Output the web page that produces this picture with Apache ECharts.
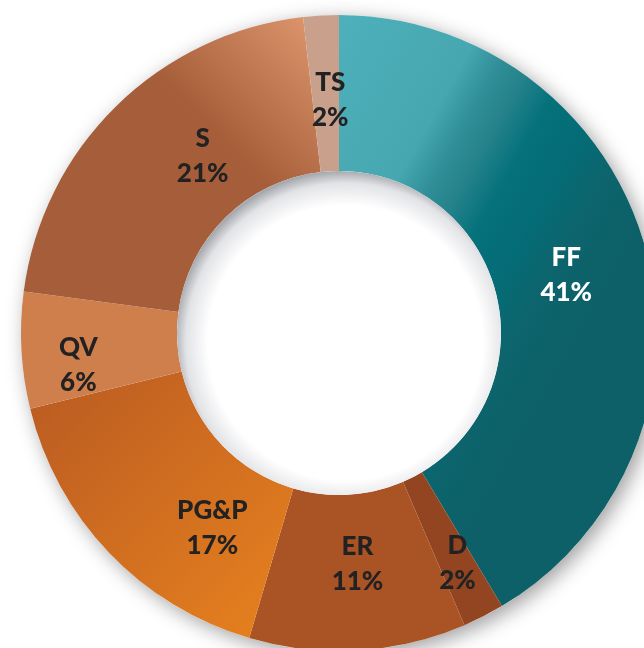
<!DOCTYPE html>
<html>
<head>
<meta charset="utf-8">
<script src="https://cdn.jsdelivr.net/npm/echarts@6/dist/echarts.min.js"></script>
<style>
  html, body { margin: 0; padding: 0; background: #fff; }
  #chart { width: 644px; height: 648px; }
</style>
</head>
<body>
<div id="chart"></div>
<script>
// slices, clockwise from 12 o'clock
const categories = ['FF', 'D', 'ER', 'PG&P', 'QV', 'S', 'TS'];
const shares = [41.4, 2.1, 11.0, 16.6, 5.9, 21.1, 1.8];
const shownPct = [41, 2, 11, 17, 6, 21, 2];

const grad = (x, y, x2, y2, stops) => new echarts.graphic.LinearGradient(
    x, y, x2, y2, stops.map((c, i) => ({ offset: c[0], color: c[1] })));

const sliceColors = [
    grad(0, 0, 1, 0.3, [[0, '#4eb0ba'], [0.36, '#46a7b1'], [0.45, '#2f8e97'], [0.52, '#26838c'],
        [0.62, '#05717b'], [0.74, '#046c76'], [0.86, '#0d646c'], [1, '#0d6068']]),
    '#924520',
    '#aa5425',
    grad(0, 0, 1, 1, [[0, '#b95a22'], [1, '#e8821e']]),
    '#cf7f4b',
    grad(0.95, 0, 0.6, 0.35, [[0, '#dc946c'], [1, '#a65e3a']]),
    '#c8a08c'
];
const labelColors = ['#fff', '#222', '#222', '#222', '#222', '#222', '#222'];
// nudges from the default mid-ring spot
const labelNudge = [[-7, 7], [8, 14], [4, -11], [49, 27], [-18, 19], [34, -4], [5, 10]];

const center = [339, 333];
const chart = echarts.init(document.getElementById('chart'));

chart.setOption({
    animation: false,
    series: [
        {
            // ring drop shadow
            type: 'pie', silent: true, z: 1,
            center: center, radius: [150, 318],
            label: { show: false }, labelLine: { show: false },
            itemStyle: {
                color: '#fff', shadowBlur: 20, shadowColor: 'rgba(0,0,0,0.38)',
                shadowOffsetX: 5, shadowOffsetY: 5
            },
            data: [{ value: 1 }]
        },
        {
            type: 'pie', z: 2,
            center: center, radius: [162, 318],
            startAngle: 90, clockwise: true,
            labelLine: { show: false },
            data: categories.map((name, i) => ({
                name: name,
                value: shares[i],
                itemStyle: { color: sliceColors[i] },
                label: {
                    show: true, position: 'inside',
                    formatter: name + '\n' + shownPct[i] + '%',
                    color: labelColors[i],
                    fontFamily: 'Lato', fontWeight: 900, fontSize: 26,
                    lineHeight: 35,
                    offset: labelNudge[i]
                }
            }))
        },
        {
            // inset shading of the hole
            type: 'pie', silent: true, z: 3,
            center: center, radius: [0, 162],
            label: { show: false }, labelLine: { show: false },
            itemStyle: {
                color: new echarts.graphic.RadialGradient(0.52, 0.53, 0.53, [
                    { offset: 0, color: '#ffffff' },
                    { offset: 0.8, color: '#ffffff' },
                    { offset: 0.93, color: '#e2e3e6' },
                    { offset: 1, color: '#a6a9ae' }
                ])
            },
            data: [{ value: 1 }]
        }
    ]
});
</script>
</body>
</html>
